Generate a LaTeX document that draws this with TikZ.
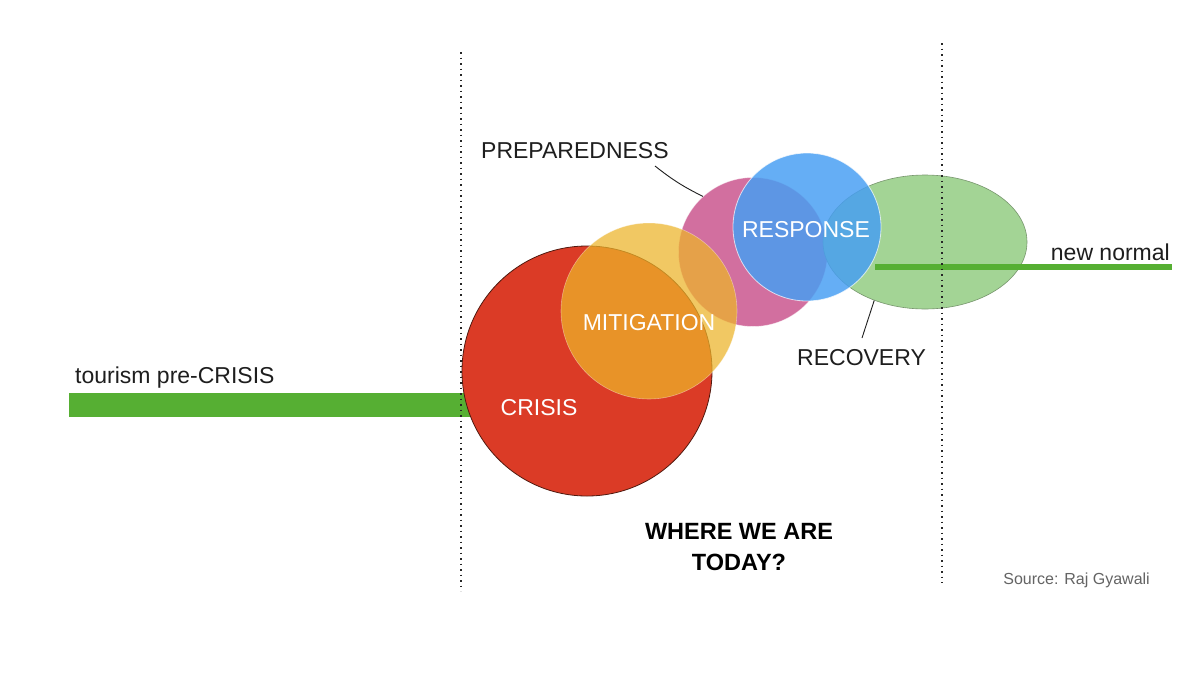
\documentclass[tikz,border=0pt]{standalone}
\usepackage{fontspec}
\setmainfont{Liberation Sans}
\usetikzlibrary{shapes.geometric}
\definecolor{crisisred}{RGB}{219,59,38}
\definecolor{crisisedge}{RGB}{80,25,15}
\definecolor{mityellow}{RGB}{237,180,42}
\definecolor{prepink}{RGB}{199,75,136}
\definecolor{respblue}{RGB}{70,158,243}
\definecolor{recgreen}{RGB}{163,212,149}
\definecolor{recedge}{RGB}{120,150,110}
\definecolor{bargreen}{RGB}{86,175,51}
\definecolor{txt}{RGB}{30,30,30}
\definecolor{srcgray}{RGB}{100,100,100}
\tikzset{
  lbl/.style={inner sep=0pt, text=txt, font=\fontsize{23}{27}\selectfont},
  inlbl/.style={inner sep=0pt, text=white, font=\fontsize{23}{27}\selectfont},
  bubble/.style={circle, inner sep=0pt},
  dotline/.style={line width=1.5pt, dash pattern=on 1.5pt off 4pt, draw=black!85},
  leader/.style={draw=txt, line width=0.9pt},
  bar/.style={draw=bargreen, line cap=butt}
}
\begin{document}
\begin{tikzpicture}[x=1pt,y=-1pt]
\useasboundingbox (0,0) rectangle (1200,675);
\fill[white] (0,0) rectangle (1200,675);

% bars (pre-crisis behind crisis circle)
\coordinate (b1s) at (69,405);
\coordinate (b1e) at (480,405);
\draw[bar, line width=24pt] (b1s) -- (b1e);

% bubbles
\node[bubble, minimum size=250pt, fill=crisisred, draw=crisisedge, line width=0.8pt] (crisis) at (587,371) {};
\node[bubble, minimum size=149pt, fill=prepink, fill opacity=0.8, draw=white, draw opacity=0.5, line width=0.6pt] (prep) at (753,252) {};
\node[bubble, minimum size=176pt, fill=mityellow, fill opacity=0.73, draw=white, draw opacity=0.4, line width=0.6pt] (mit) at (649,311) {};
\node[ellipse, inner sep=0pt, minimum width=204pt, minimum height=134pt, fill=recgreen, draw=recedge, line width=0.6pt] (rec) at (925,242) {};
\node[bubble, minimum size=148pt, fill=respblue, fill opacity=0.83, draw=white, draw opacity=0.7, line width=0.8pt] (resp) at (807,227) {};

% new normal bar
\coordinate (b2s) at (875,267);
\coordinate (b2e) at (1172,267);
\draw[bar, line width=6pt] (b2s) -- (b2e);

% dotted lines
\coordinate (d1t) at (461,52);
\coordinate (d1b) at (461,591);
\coordinate (d2t) at (942,43);
\coordinate (d2b) at (942,583);
\draw[dotline] (d1t) -- (d1b);
\draw[dotline] (d2t) -- (d2b);

% inner labels
\node[inlbl, anchor=base] (resplbl) at (806,237) {RESPONSE};
\node[inlbl, anchor=base] (mitlbl) at (649,330) {MITIGATION};
\node[inlbl, anchor=base] (crislbl) at (539,415) {CRISIS};

% outer labels
\node[lbl, anchor=base west] (pre) at (75,383) {tourism pre-CRISIS};
\node[lbl, anchor=base west] (preplbl) at (481,158) {PREPAREDNESS};
\node[lbl, anchor=base west] (reclbl) at (797,365) {RECOVERY};
\node[lbl, anchor=base east] (newnorm) at (1170,260) {new normal};

% leaders
\coordinate (l1) at (655,166);
\draw[leader] (l1) to[bend right=6] (prep.132);
\coordinate (l2) at (862,338);
\draw[leader] (rec.229) -- (l2);

% bottom texts
\node[inner sep=0pt, align=center, text=black, font=\fontsize{23.5}{31}\selectfont\bfseries, anchor=base] (where) at (739,570) {WHERE WE ARE\\TODAY?};
\node[inner sep=0pt, text=srcgray, font=\fontsize{16}{19}\selectfont, anchor=base east] (src) at (1150,584) {Source: Raj Gyawali};
\end{tikzpicture}
\end{document}
